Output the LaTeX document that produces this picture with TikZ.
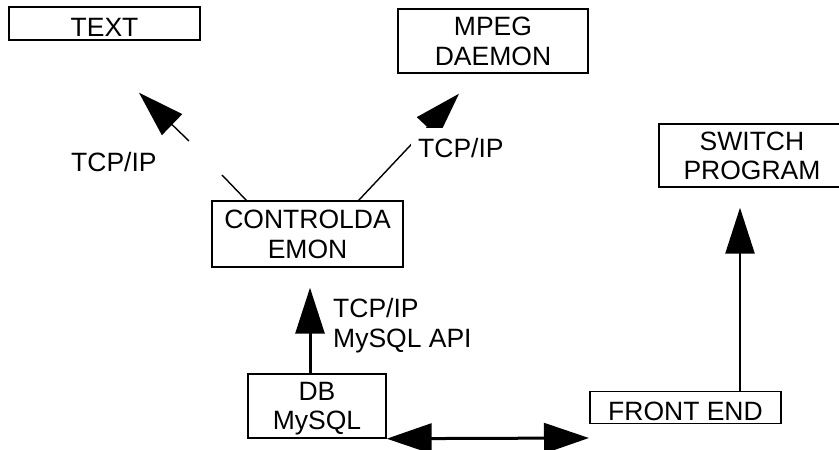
\documentclass[tikz,border=0pt]{standalone}
\usepackage{fontspec}
\setmainfont{Liberation Sans}
\usetikzlibrary{arrows.meta,calc}
\tikzset{
  box/.style={draw, line width=1.4pt, inner sep=0pt, align=center, text depth=0pt},
  onebox/.style={box, text height=25pt},
  thinline/.style={line width=1.4pt},
  thickline/.style={line width=3pt},
  bighead/.style={-{Triangle[length=46pt,width=29pt]}},
  dblhead/.style={{Triangle[length=45pt,width=30pt]}-{Triangle[length=45pt,width=30pt]}},
  lbl/.style={inner sep=0pt, align=left}
}
\begin{document}
\begin{tikzpicture}[x=1pt,y=-1pt,font=\fontsize{26.5}{29.5}\selectfont]
\useasboundingbox (0,0) rectangle (839,450);
\clip (0,0) rectangle (839,450);
% boxes
\node[onebox, minimum width=191pt, minimum height=33pt] (text) at (104.5,23.5) {TEXT};
\node[box, minimum width=190pt, minimum height=64pt] (mpeg) at (493,41) {MPEG\\DAEMON};
\node[box, minimum width=186pt, minimum height=63pt] (switch) at (752,155.5) {SWITCH\\PROGRAM};
\node[box, minimum width=191pt, minimum height=66pt] (ctrl) at (307.5,234) {CONTROLDA\\EMON};
\node[box, minimum width=138pt, minimum height=64pt] (db) at (317,406) {DB\\MySQL};
\node[onebox, minimum width=191pt, minimum height=32pt] (front) at (685.5,407.5) {FRONT END};
% ctrl -> text (broken by label gap)
\coordinate (ga) at ($(ctrl.north west)+(35,0)$);
\coordinate (gb) at (222,175);
\coordinate (gc) at (189,141);
\coordinate (ttip) at ($(text.south)+(34.5,52)$);
\draw[thinline] (ga) -- (gb);
\draw[thinline,bighead] (gc) -- (ttip);
\node[lbl, anchor=base west] (l1) at (71,171) {TCP/IP};
% ctrl -> mpeg
\coordinate (ma) at ($(ctrl.north east)+(-45,0)$);
\coordinate (mtip) at ($(mpeg.south)+(-34,20)$);
\draw[thinline,bighead] (ma) -- (mtip);
\node[fill=white, inner xsep=7pt, inner ysep=0pt, text height=29.5pt, text depth=8pt, anchor=base west] (l2) at (411,157) {TCP/IP};
% db -> ctrl
\coordinate (da) at ($(db.north)+(-7,0)$);
\coordinate (dtip) at ($(ctrl.south)+(2.5,20)$);
\draw[thickline,bighead] (da) -- (dtip);
\node[lbl, anchor=north west] (l3) at (333,298.5) {TCP/IP\\MySQL API};
% front -> switch
\coordinate (fa) at ($(front.north)+(54.5,0)$);
\coordinate (ftip) at ($(switch.south)+(-12,20)$);
\draw[line width=2.6pt,bighead] (fa) -- (ftip);
% db <-> front
\coordinate (bend) at (589,438);
\draw[thickline,dblhead] (db.south east) -- (bend);
\end{tikzpicture}
\end{document}
